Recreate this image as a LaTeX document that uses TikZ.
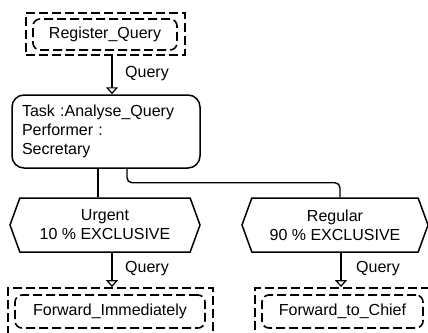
\documentclass[tikz,border=0pt]{standalone}
\usepackage{fontspec}
\setmainfont{Liberation Sans}
\usepackage{tikz}
\usetikzlibrary{positioning,arrows.meta,shapes.symbols}

\begin{document}
\begin{tikzpicture}[
  x=1pt, y=-1pt,
  font=\fontsize{16}{19}\selectfont,
  actouter/.style={
    draw, line width=1.8pt, dash pattern=on 9pt off 4pt,
    inner sep=0pt,
  },
  actinner/.style={
    draw, line width=1.6pt, dash pattern=on 9pt off 4pt,
    rounded corners=7pt, inner sep=0pt,
  },
  taskbox/.style={
    draw, line width=1.5pt, rounded corners=12pt,
    text width=168pt, inner xsep=10pt,
    minimum height=73pt, align=left,
  },
  condhex/.style={
    draw, line width=1.5pt,
    signal, signal to=west and east, signal pointer angle=140,
    minimum height=54pt, align=center, inner sep=2pt,
  },
  link/.style={draw, line width=1.4pt},
  flow/.style={link, -{Triangle[open, width=12pt, length=7pt, line width=1.2pt]}},
  lbl/.style={anchor=west, inner sep=1pt},
]

% === BOUNDS ===
\useasboundingbox (0,0) rectangle (428,332);

% === START ACTIVITY ===
\node[actouter, minimum width=159pt, minimum height=42pt] (regout) at (105.5,34) {};
\node[actinner, minimum width=144pt, minimum height=31pt] (reg) at (105,34.5) {Register\_Query};

% === TASK ===
\node[taskbox] (task) at (106,131.5) {Task :Analyse\_Query\\Performer :\\Secretary};

% === CONDITIONS ===
\node[condhex, minimum width=190pt] (urg) at (105,225) {Urgent\\10 \% EXCLUSIVE};
\node[condhex, minimum width=186pt] (rgl) at (335,225) {Regular\\90 \% EXCLUSIVE};

% === END ACTIVITIES ===
\node[actouter, minimum width=205pt, minimum height=46pt] (fimout) at (110.5,311) {};
\node[actinner, minimum width=190pt, minimum height=33pt] (fim) at (110,311.5) {Forward\_Immediately};

\node[actouter, minimum width=175pt, minimum height=46pt] (fchout) at (342.5,311) {};
\node[actinner, minimum width=161pt, minimum height=33pt] (fch) at (342.5,311.5) {Forward\_to\_Chief};

% === CONNECTORS ===
\draw[flow] ([xshift=6.5pt]regout.south) -- ([xshift=6.5pt]regout.south |- task.north);
\node[lbl] (q1) at (124,74) {Query};

\draw[link] ([xshift=-8pt]task.south) -- ([xshift=-8pt]task.south |- urg.north);
\draw[link, rounded corners=5pt] ([xshift=21pt]task.south) -- ++(0,14) -| ([xshift=5pt]rgl.north);

\draw[flow] ([xshift=7pt]urg.south) -- ([xshift=7pt]urg.south |- fimout.north);
\node[lbl] (q2) at (124,269) {Query};

\draw[flow] ([xshift=6pt]rgl.south) -- ([xshift=6pt]rgl.south |- fchout.north);
\node[lbl] (q3) at (355,269) {Query};

\end{tikzpicture}
\end{document}
